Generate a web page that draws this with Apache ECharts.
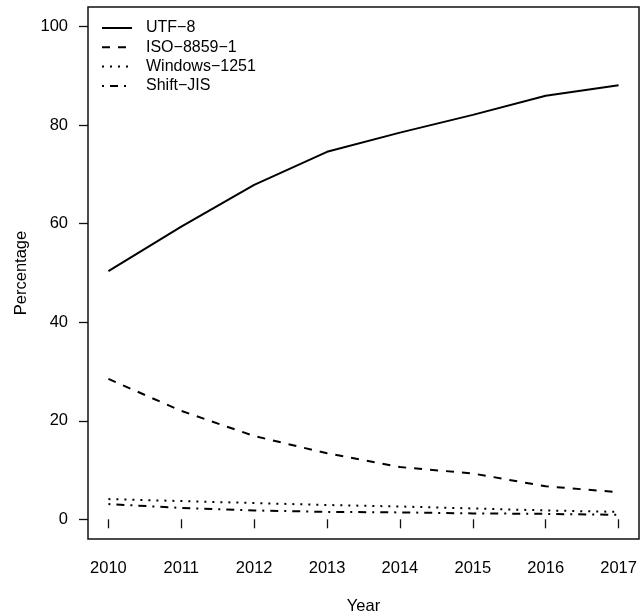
<!DOCTYPE html>
<html>
<head>
<meta charset="utf-8">
<script src="https://cdn.jsdelivr.net/npm/echarts@6/dist/echarts.min.js"></script>
<style>
  html, body { margin: 0; padding: 0; background: #fff; }
  #chart { width: 641px; height: 615px; }
</style>
</head>
<body>
<div id="chart"></div>
<script>
// Share of websites by character encoding, 2010–2017
const years = [2010, 2011, 2012, 2013, 2014, 2015, 2016, 2017];
const utf8 = [50.4, 59.4, 67.9, 74.6, 78.5, 82.1, 86.0, 88.1];
const iso88591 = [28.5, 22.0, 16.9, 13.4, 10.6, 9.3, 6.7, 5.5];
const windows1251 = [4.1, 3.7, 3.3, 2.9, 2.6, 2.2, 1.8, 1.5];
const shiftJis = [3.1, 2.3, 1.8, 1.5, 1.4, 1.2, 1.1, 0.9];
const seriesNames = ['UTF\u22128', 'ISO\u22128859\u22121', 'Windows\u22121251', 'Shift\u2212JIS'];
const xTicks = [2010, 2011, 2012, 2013, 2014, 2015, 2016, 2017];
const yTicks = [0, 20, 40, 60, 80, 100];

const FONT = "'Liberation Sans', Arial, Helvetica, sans-serif";
const pairs = vals => years.map((y, i) => [y, vals[i]]);

const lineSeries = (name, vals, dash) => ({
  name: name,
  type: 'line',
  data: pairs(vals),
  showSymbol: false,
  symbol: 'none',
  smooth: false,
  lineStyle: { color: '#000', width: 2, type: dash },
  itemStyle: { color: '#000' },
  emphasis: { disabled: true }
});

const chart = echarts.init(document.getElementById('chart'), null, { renderer: 'canvas' });
chart.setOption({
  animation: false,
  backgroundColor: '#fff',
  textStyle: { fontFamily: FONT, color: '#000' },
  grid: {
    left: 88, right: 2, top: 7, bottom: 76,
    outerBoundsMode: 'none',
    containLabel: false,
    show: true, borderColor: '#111', borderWidth: 1.5, backgroundColor: 'transparent'
  },
  legend: {
    data: seriesNames,
    orient: 'vertical',
    left: 101, top: 20,
    padding: 0,
    itemWidth: 30, itemHeight: 16, itemGap: 3.3,
    // legend keys show only the line pattern, no point marker
    itemStyle: { opacity: 0 },
    textStyle: { fontSize: 16, fontFamily: FONT, color: '#000', padding: [0, 0, 0, 9] },
    selectedMode: false
  },
  xAxis: {
    type: 'value',
    min: 2009.72, max: 2017.28,
    name: 'Year', nameLocation: 'middle', nameGap: 59,
    nameTextStyle: { fontSize: 16.5, fontFamily: FONT, color: '#000' },
    axisLine: { show: false },
    axisTick: { show: true, length: 9, customValues: xTicks, lineStyle: { color: '#111', width: 1.3 } },
    axisLabel: { customValues: xTicks, margin: 21, fontSize: 16.5, fontFamily: FONT, color: '#000',
                 formatter: v => String(v) },
    splitLine: { show: false }
  },
  yAxis: {
    type: 'value',
    min: -4, max: 104,
    name: 'Percentage', nameLocation: 'middle', nameGap: 58,
    nameTextStyle: { fontSize: 16.5, fontFamily: FONT, color: '#000' },
    axisLine: { show: false },
    axisTick: { show: true, length: 9, customValues: yTicks, lineStyle: { color: '#111', width: 1.3 } },
    axisLabel: { customValues: yTicks, margin: 20, fontSize: 16.5, fontFamily: FONT, color: '#000',
                 formatter: v => String(v) },
    splitLine: { show: false }
  },
  series: [
    lineSeries(seriesNames[0], utf8, 'solid'),
    lineSeries(seriesNames[1], iso88591, [8, 8]),
    lineSeries(seriesNames[2], windows1251, [2, 6]),
    lineSeries(seriesNames[3], shiftJis, [2, 6, 8, 6])
  ]
});
</script>
</body>
</html>
